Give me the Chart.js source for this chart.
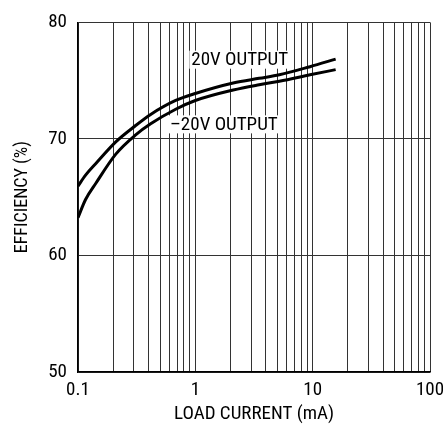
<!DOCTYPE html>
<html>
<head>
<meta charset="utf-8">
<script src="https://cdn.jsdelivr.net/npm/chart.js@4.4.0/dist/chart.umd.min.js"></script>
<style>
  html, body { margin: 0; padding: 0; background: #fff; }
  #wrap { width: 443px; height: 426px; }
</style>
</head>
<body>
<div id="wrap"><canvas id="grafico" width="443" height="426"></canvas></div>
<script>
// dados
const corrente = [0.1, 0.116, 0.142, 0.21, 0.31, 0.416, 0.68, 1, 2.1, 3.5, 5.2, 9.5, 15.7];
const saida20 = [65.95, 66.9, 67.9, 69.75, 71.15, 72.1, 73.3, 73.9, 74.8, 75.2, 75.5, 76.2, 76.85];
const saidaMenos20 = [63.25, 64.8, 66.2, 68.7, 70.35, 71.3, 72.55, 73.3, 74.2, 74.65, 74.95, 75.5, 75.95];
const ticksX = [0.1, 0.2, 0.3, 0.4, 0.5, 0.6, 0.7, 0.8, 0.9, 1, 2, 3, 4, 5, 6, 7, 8, 9, 10, 20, 30, 40, 50, 60, 70, 80, 90, 100];
const rotulosX = { 0.1: '0.1', 1: '1', 10: '10', 100: '100' };
const ticksY = [50, 60, 70, 80];
const legendas = [
    { texto: '20V OUTPUT', x: 2.39, y: 76.8 },
    { texto: '\u201320V OUTPUT', x: 1.75, y: 71.25 }
];

const fonte = '"Liberation Sans Narrow", "Roboto Condensed", "DejaVu Sans Condensed", "Liberation Sans", sans-serif';

const paraPontos = (ys) => corrente.map((x, i) => ({ x: x, y: ys[i] }));

// textos das curvas com fundo branco
const textosPlugin = {
    id: 'textos',
    afterDatasetsDraw(chart) {
        const ctx = chart.ctx;
        const sx = chart.scales.x, sy = chart.scales.y;
        ctx.save();
        ctx.font = '19px ' + fonte;
        ctx.textAlign = 'center';
        ctx.textBaseline = 'middle';
        legendas.forEach(l => {
            const px = sx.getPixelForValue(l.x);
            const py = sy.getPixelForValue(l.y);
            const w = ctx.measureText(l.texto).width;
            ctx.fillStyle = '#fff';
            ctx.fillRect(px - w / 2 - 2, py - 9, w + 4, 18);
            ctx.fillStyle = '#000';
            ctx.fillText(l.texto, px, py + 1);
        });
        ctx.restore();
    }
};

const serie = (dados) => ({
    data: paraPontos(dados),
    borderColor: '#000',
    borderWidth: 3,
    pointRadius: 0,
    fill: false,
    cubicInterpolationMode: 'monotone'
});

new Chart(document.getElementById('grafico').getContext('2d'), {
    type: 'line',
    data: { datasets: [serie(saida20), serie(saidaMenos20)] },
    options: {
        responsive: false,
        animation: false,
        layout: { padding: { top: 21, right: 13, left: 0, bottom: 0 } },
        plugins: { legend: { display: false }, tooltip: { enabled: false } },
        scales: {
            x: {
                type: 'logarithmic',
                min: 0.1,
                max: 100,
                afterBuildTicks: (s) => { s.ticks = ticksX.map(v => ({ value: v })); },
                afterFit: (s) => { s.height = 54; s.paddingLeft = 0; s.paddingRight = 0; },
                ticks: {
                    autoSkip: false,
                    maxRotation: 0,
                    padding: 7,
                    color: '#000',
                    font: { family: fonte, size: 19 },
                    callback: (v) => rotulosX[v] || ''
                },
                grid: { color: '#333', lineWidth: 1, drawTicks: false },
                border: { color: '#000', width: 1.5 },
                title: {
                    display: true,
                    text: 'LOAD CURRENT (mA)',
                    color: '#000',
                    font: { family: fonte, size: 19 },
                    padding: { top: 0, bottom: 0 }
                }
            },
            y: {
                min: 50,
                max: 80,
                afterBuildTicks: (s) => { s.ticks = ticksY.map(v => ({ value: v })); },
                afterFit: (s) => { s.width = 78; },
                ticks: {
                    padding: 11,
                    color: '#000',
                    font: { family: fonte, size: 19 }
                },
                grid: { color: '#333', lineWidth: 1, drawTicks: false },
                border: { color: '#000', width: 1.5 },
                title: {
                    display: true,
                    text: 'EFFICIENCY (%)',
                    color: '#000',
                    font: { family: fonte, size: 18 },
                    padding: { top: 12, bottom: 6 }
                }
            }
        }
    },
    plugins: [textosPlugin]
});
</script>
</body>
</html>
